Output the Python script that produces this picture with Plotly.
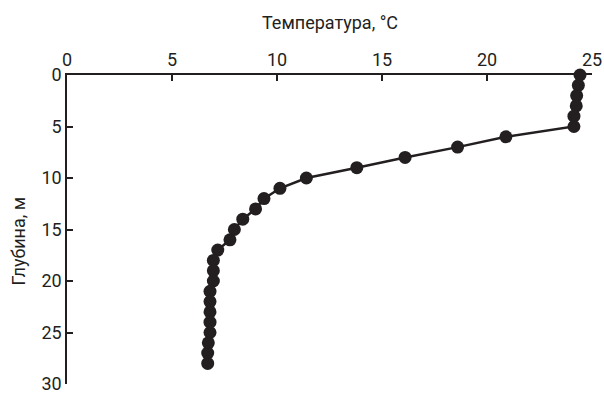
import plotly.graph_objects as go

depth = list(range(0, 29))
temperature = [24.43, 24.35, 24.27, 24.25, 24.14, 24.14, 20.9, 18.6, 16.1, 13.8,
               11.4, 10.14, 9.38, 8.98, 8.37, 7.97, 7.76, 7.18, 6.97, 6.97,
               6.97, 6.81, 6.81, 6.81, 6.81, 6.81, 6.73, 6.70, 6.70]
x_ticks = [0, 5, 10, 15, 20, 25]
y_ticks = [0, 5, 10, 15, 20, 25, 30]
x_title = "Температура, °C"
y_title = "Глубина, м"

FONT = "Roboto, Liberation Sans, sans-serif"
INK = "#231f20"

fig = go.Figure(go.Scatter(
    x=temperature, y=depth, mode="lines+markers",
    line=dict(color=INK, width=2.5),
    marker=dict(color=INK, size=13),
    cliponaxis=False,
))

fig.update_layout(
    width=604, height=394,
    margin=dict(l=67, r=12, t=75, b=10, autoexpand=False),
    paper_bgcolor="white", plot_bgcolor="white",
    font=dict(family=FONT, size=18, color=INK),
    showlegend=False,
    xaxis=dict(
        side="top", range=[0, 25.0001], tickvals=x_ticks, ticktext=[str(v) for v in x_ticks],
        showgrid=False, zeroline=False, showline=True, linecolor=INK, linewidth=1.5,
        ticks="inside", ticklen=6, tickwidth=1.5, tickcolor=INK,
        ticklabeloverflow="allow", automargin=False,
    ),
    yaxis=dict(
        range=[30.0001, 0], tickvals=y_ticks, ticktext=[str(v) for v in y_ticks],
        showgrid=False, zeroline=False, showline=True, linecolor=INK, linewidth=1.5,
        ticks="inside", ticklen=6, tickwidth=1.5, tickcolor=INK,
        ticklabeloverflow="allow", automargin=False,
    ),
    annotations=[
        dict(text=x_title, xref="paper", yref="paper", x=0.5, y=1.171,
             showarrow=False, xanchor="center", yanchor="middle",
             font=dict(family=FONT, size=18, color=INK)),
        dict(text=y_title, xref="paper", yref="paper", x=-0.093, y=0.462,
             showarrow=False, xanchor="center", yanchor="middle", textangle=-90,
             font=dict(family=FONT, size=18, color=INK)),
    ],
)

fig.write_html("out.html")
